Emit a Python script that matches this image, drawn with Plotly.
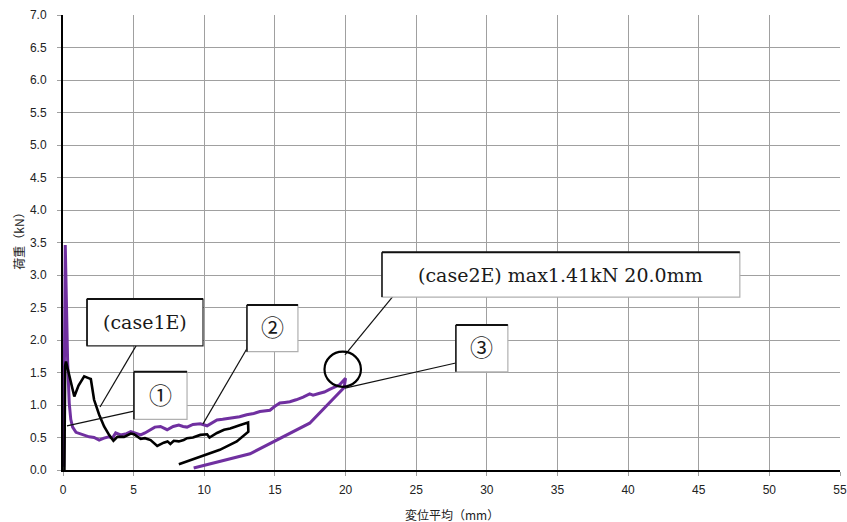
import plotly.graph_objects as go

# case1E: load vs. average displacement
case1e_x = [0.10, 0.15, 0.21, 0.50, 0.80, 1.10, 1.50, 1.85, 1.97, 2.20, 2.56, 2.91, 3.26,
            3.57, 3.85, 4.08, 4.32, 4.80, 5.02, 5.50, 5.80, 6.20, 6.67, 7.13, 7.40, 7.60,
            7.84, 8.20, 8.54, 8.78, 9.20, 9.72, 10.20, 10.37, 10.90, 11.40, 11.83, 12.50,
            13.10, 13.12, 12.30, 11.10, 9.70, 8.20]
case1e_y = [0.00, 1.60, 1.67, 1.40, 1.13, 1.30, 1.44, 1.41, 1.40, 1.08, 0.85, 0.67, 0.54,
            0.45, 0.51, 0.51, 0.51, 0.56, 0.55, 0.48, 0.49, 0.46, 0.37, 0.42, 0.44, 0.40,
            0.45, 0.44, 0.46, 0.49, 0.50, 0.54, 0.55, 0.50, 0.57, 0.62, 0.64, 0.69,
            0.73, 0.59, 0.44, 0.31, 0.20, 0.09]

# case2E: load vs. average displacement
case2e_x = [0.05, 0.16, 0.33, 0.44, 0.55, 0.68, 0.92, 1.30, 1.85, 2.20, 2.56, 2.90, 3.24,
            3.50, 3.73, 4.08, 4.50, 4.80, 5.10, 5.50, 5.80, 6.20, 6.50, 6.90, 7.37, 7.80,
            8.20, 8.50, 8.78, 9.20, 9.72, 10.20, 10.50, 10.90, 11.30, 11.60, 12.06, 12.50,
            13.00, 13.50, 13.94, 14.65, 15.00, 15.35, 15.70, 16.06, 16.50, 17.00, 17.46,
            17.70, 18.17, 18.50, 18.87, 19.30, 19.58, 20.00, 19.90, 17.46, 13.24, 9.25]
case2e_y = [0.05, 3.46, 1.65, 1.03, 0.78, 0.66, 0.58, 0.55, 0.51, 0.50, 0.46, 0.49, 0.51,
            0.49, 0.57, 0.54, 0.56, 0.59, 0.57, 0.54, 0.57, 0.62, 0.66, 0.67, 0.62, 0.67,
            0.69, 0.67, 0.66, 0.70, 0.71, 0.68, 0.72, 0.77, 0.78, 0.79, 0.80, 0.82,
            0.85, 0.87, 0.90, 0.92, 0.98, 1.03, 1.04, 1.05, 1.08, 1.12, 1.17,
            1.15, 1.18, 1.20, 1.24, 1.28, 1.31, 1.41, 1.27, 0.72, 0.25, 0.03]

x_ticks = list(range(0, 56, 5))
y_ticks = [i * 0.5 for i in range(15)]
y_tick_text = [f"{v:.1f}" for v in y_ticks]

x_title = "変位平均（mm）"
y_title = "荷重（kN）"

SERIF = "DejaVu Serif, Liberation Serif, Noto Sans CJK JP, serif"
SANS = "Liberation Sans, Arial, Noto Sans CJK JP, sans-serif"
CJK = "Noto Sans CJK JP, sans-serif"

fig = go.Figure()
fig.add_trace(go.Scatter(x=case2e_x, y=case2e_y, mode="lines",
                         line=dict(color="#7030A0", width=3), showlegend=False))
fig.add_trace(go.Scatter(x=case1e_x, y=case1e_y, mode="lines",
                         line=dict(color="#000000", width=2.6), showlegend=False))

# callout boxes: (x0, y0, x1, y1, text, font size, full dark border)
callouts = [
    (1.70, 1.91, 9.91, 2.63, "(case1E)", 19, True),
    (5.02, 0.78, 8.78, 1.51, "①", 23, False),
    (13.02, 1.82, 16.63, 2.54, "②", 23, False),
    (22.58, 2.66, 47.91, 3.35, "(case2E) max1.41kN 20.0mm", 19, False),
    (27.81, 1.51, 31.49, 2.23, "③", 23, False),
]
# leader lines from each box to its point on the curves
leaders = [
    (5.17, 1.91, 2.62, 0.97),
    (5.10, 0.91, 0.28, 0.68),
    (13.16, 1.92, 9.91, 0.71),
    (23.50, 2.71, 19.96, 1.77),
    (27.88, 1.65, 19.96, 1.26),
]

shapes = []
annotations = []
for x0, y0, x1, y1 in leaders:
    shapes.append(dict(type="line", xref="x", yref="y", x0=x0, y0=y0, x1=x1, y1=y1,
                       line=dict(color="#111111", width=1.2), layer="above"))

for x0, y0, x1, y1, text, size, dark in callouts:
    shapes.append(dict(type="rect", xref="x", yref="y", x0=x0, y0=y0, x1=x1, y1=y1,
                       fillcolor="white",
                       line=dict(color="#222222" if dark else "#b0b0b0", width=1.2),
                       layer="above"))
    shapes.append(dict(type="line", xref="x", yref="y", x0=x0, y0=y1, x1=x1, y1=y1,
                       line=dict(color="#111111", width=2), layer="above"))
    shapes.append(dict(type="line", xref="x", yref="y", x0=x0, y0=y0, x1=x0, y1=y1,
                       line=dict(color="#111111", width=1.5), layer="above"))
    annotations.append(dict(x=(x0 + x1) / 2, y=(y0 + y1) / 2, xref="x", yref="y",
                            text=text, showarrow=False,
                            font=dict(family=SERIF, size=size, color="#1a1a1a")))

# circle marking the maximum of case2E
shapes.append(dict(type="circle", xref="x", yref="y", x0=18.51, x1=21.09, y0=1.28, y1=1.82,
                   line=dict(color="#000000", width=2.2), layer="above"))

# axis titles
annotations.append(dict(text=x_title, xref="paper", yref="paper", x=0.5, y=-0.097,
                        xanchor="center", yanchor="middle", showarrow=False,
                        font=dict(family=CJK, size=12, color="#222222")))
annotations.append(dict(text=y_title, xref="paper", yref="paper", x=-0.057, y=0.51,
                        xanchor="center", yanchor="middle", textangle=-90, showarrow=False,
                        font=dict(family=CJK, size=12, color="#222222")))

fig.update_layout(
    width=847, height=522,
    margin=dict(l=63, r=7, t=15, b=52),
    paper_bgcolor="white", plot_bgcolor="white",
    shapes=shapes, annotations=annotations,
    font=dict(family=SANS, size=12, color="#222222"),
    xaxis=dict(
        range=[0, 55], tickmode="array", tickvals=x_ticks, automargin=False,
        showgrid=True, gridcolor="#a0a0a0", gridwidth=1,
        zeroline=False, showline=True, linecolor="#000000", linewidth=2,
        ticks="outside", ticklen=4, tickcolor="#a0a0a0", ticklabelstandoff=4,
        ticklabeloverflow="allow",
        tickfont=dict(family=SANS, size=12, color="#222222"),
    ),
    yaxis=dict(
        range=[0, 7], tickmode="array", tickvals=y_ticks, ticktext=y_tick_text,
        automargin=False,
        showgrid=True, gridcolor="#a0a0a0", gridwidth=1,
        zeroline=False, showline=True, linecolor="#000000", linewidth=2,
        ticks="outside", ticklen=4, tickcolor="#a0a0a0", ticklabelstandoff=8,
        ticklabeloverflow="allow",
        tickfont=dict(family=SANS, size=12, color="#222222"),
    ),
)

fig.write_html("out.html")
